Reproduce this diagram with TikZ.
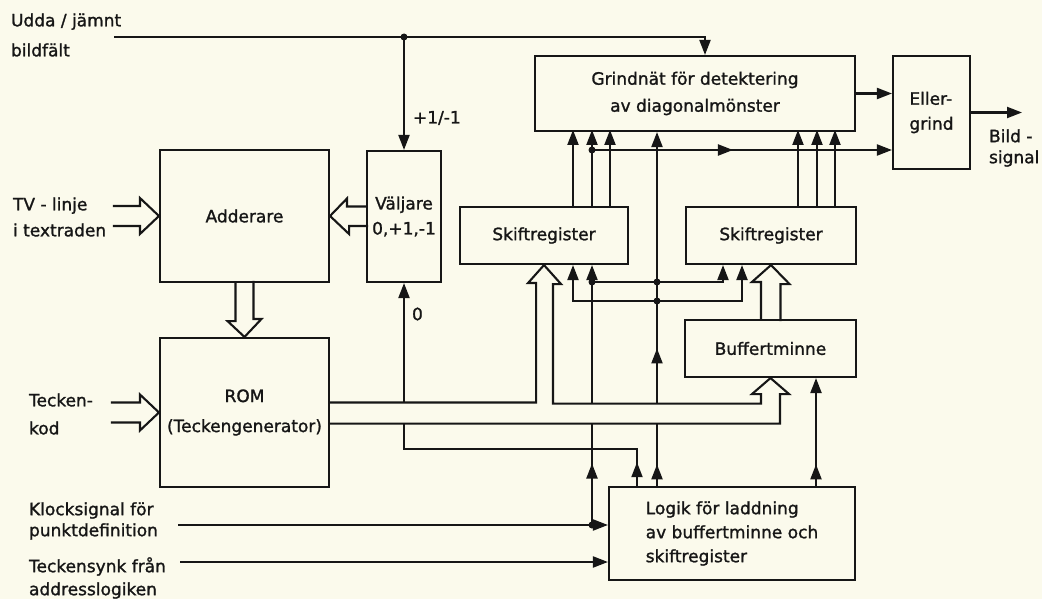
\documentclass[tikz,border=0pt]{standalone}
\usepackage{fontspec}
\setmainfont{DejaVu Sans}[BoldFont={DejaVu Sans}, BoldFeatures={FakeBold=1.3}]
\usetikzlibrary{arrows.meta,decorations.markings}
\definecolor{paper}{RGB}{251,250,236}
\definecolor{ink}{RGB}{22,22,22}

\begin{document}
\begin{tikzpicture}[x=1pt, y=-1pt, line width=2.1pt, ink,
	every node/.style={font=\bfseries\fontsize{17}{25}\selectfont},
	blk/.style={draw, rectangle, inner sep=0pt, align=center},
	txt/.style={inner sep=0pt, align=left, anchor=west},
	tip/.style={-{Triangle[length=15pt, width=11pt]}},
	tips/.style={{Triangle[length=15pt, width=11pt]}-{Triangle[length=15pt, width=11pt]}},
	midtip/.style={postaction={decorate}, decoration={markings, mark=at position #1 with {\arrow{Triangle[length=15pt, width=11pt]}}}},
	dot/.style={circle, fill, inner sep=0pt, minimum size=7pt}]

		\path[use as bounding box, fill=paper] (0,0) rectangle (1042,599);

		\node[blk, minimum width=169pt, minimum height=132pt] (add) at (244.5,216) {Adderare};
		\node[blk, minimum width=74pt, minimum height=131pt] (valj) at (404,216.5) {Väljare\\0,+1,-1};
		\node[blk, minimum width=169pt, minimum height=149pt, font=\bfseries\fontsize{17}{30}\selectfont] (rom) at (244.5,412.5) {ROM\\(Teckengenerator)};
		\node[blk, minimum width=320pt, minimum height=75pt, font=\bfseries\fontsize{17}{27}\selectfont] (grind) at (695,93.5) {Grindnät för detektering\\av diagonalmönster};
		\node[blk, minimum width=77pt, minimum height=113pt, align=left] (eller) at (931.5,112.5) {Eller-\\grind};
		\node[blk, minimum width=168pt, minimum height=57pt] (sra) at (544,235.5) {Skiftregister};
		\node[blk, minimum width=170pt, minimum height=57pt] (srb) at (771,235.5) {Skiftregister};
		\node[blk, minimum width=171pt, minimum height=57pt] (buf) at (770.5,348.5) {Buffertminne};
		\node[blk, minimum width=246pt, minimum height=93pt, align=left, font=\bfseries\fontsize{17}{24}\selectfont] (logik) at (732,533.5) {Logik för laddning\\av buffertminne och\\skiftregister};

		\node[txt, font=\bfseries\fontsize{17}{30}\selectfont] (tudda) at (10,35) {Udda / jämnt\\bildfält};
		\node[txt, font=\bfseries\fontsize{17}{26}\selectfont] (ttv) at (12,217) {TV - linje\\i textraden};
		\node[txt, font=\bfseries\fontsize{17}{28}\selectfont] (tkod) at (28,414) {Tecken-\\kod};
		\node[txt, font=\bfseries\fontsize{17}{21}\selectfont] (tklock) at (28,521) {Klocksignal för\\punktdefinition};
		\node[txt, font=\bfseries\fontsize{17}{23}\selectfont] (tsynk) at (28,578) {Teckensynk från\\addresslogiken};
		\node[txt, font=\bfseries\fontsize{17}{21}\selectfont] (tbild) at (988,148) {Bild -\\signal};
		\node[txt] (tpm) at (412,118) {+1/-1};
		\node[txt] (tnoll) at (411,314) {0};

		\coordinate (uin) at (114,37);
		\coordinate (klin) at (178,525);
		\coordinate (syin) at (180,562);
		\coordinate (bout) at (1022,114);
		\coordinate (j2) at (592,150);
		\coordinate (bt) at (0,402.5);
		\coordinate (bb) at (0,422.5);
		\coordinate (r1) at (0,282);
		\coordinate (r2) at (0,301);
		\coordinate (x1) at ([xshift=29pt]sra.south);
		\coordinate (x2) at ([xshift=48pt]sra.south);
		\coordinate (y1) at ([xshift=-48pt]srb.south);
		\coordinate (y2) at ([xshift=-29pt]srb.south);
		\coordinate (x0) at ([xshift=-95pt]logik.north);
		\coordinate (x3) at ([xshift=-75pt]logik.north);
		\coordinate (x4) at ([xshift=84pt]logik.north);
		\coordinate (c0) at (404,449);

		% wide arrows
		\draw (add.west) ++(-46,-10) -- ++(27,0) -- ++(0,-8) -- (add.west) -- ++(-19,18) -- ++(0,-8) -- ++(-27,0);
		\draw (valj.west) ++(0,-10) -- ++(-19,0) -- ++(0,-8) -- (add.east) -- ++(19,18) -- ++(0,-8) -- ++(19,0);
		\draw (add.south) ++(-9,0) -- ++(0,38) -- ++(-8,0) -- (rom.north) -- ++(17,-18) -- ++(-8,0) -- ++(0,-38);
		\draw (rom.west) ++(-48,-10) -- ++(29,0) -- ++(0,-8) -- (rom.west) -- ++(-19,18) -- ++(0,-8) -- ++(-29,0);
		\draw ([yshift=10pt]rom.east) -- ++(206,0) -- ++(0,-119.5) -- ++(-8,0) -- (sra.south) -- ++(17,19) -- ++(-8,0) -- ++(0,119.5) -- ++(208,0) -- ++(0,-9.5) -- ++(-9,0) -- (buf.south) -- ++(18.5,16) -- ++(-9,0) -- ++(0,29.5) -- ++(-451,0);
		\draw ([xshift=-9.5pt]buf.north) -- ++(0,-37) -- ++(-9,0) -- (srb.south) -- ++(18.5,19) -- ++(-9,0) -- ++(0,37);

		% signals
		\draw[tip] (uin) -| ([xshift=10pt]grind.north);
		\draw[tip] (uin -| valj.north) -- (valj.north);
		\node[dot] (d1) at (uin -| valj.north) {};

		\foreach \dx in {29,48,66} \draw[tip] (sra.north) ++(\dx,0) -- ++(0,-76);
		\foreach \dx in {27,46,64} \draw[tip] (srb.north) ++(\dx,0) -- ++(0,-76);
		\draw[tip, midtip=0.47] (j2) -- (j2 -| eller.west);
		\node[dot] (d2) at (j2) {};
		\draw[tip] (grind.east) -- (grind.east -| eller.west);
		\draw[tip] (eller.east) -- (eller.east -| bout);

		\draw[midtip=0.08] (x0) |- (c0) -- (c0 |- bb);
		\draw[tip] (valj.south |- bt) -- (valj.south);

		\draw[tip] (klin) -- (klin -| logik.west);
		\draw[tip] (syin) -- (syin -| logik.west);
		\draw[midtip=0.6] (klin -| x2) -- (x2 |- bb);
		\draw[tip] (x2 |- bt) -- (x2);
		\node[dot] (d3) at (klin -| x2) {};

		\draw[tip] (x2 |- r1) -| (y1);
		\draw[tips] (x1) |- (y2 |- r2) -- (y2);
		\node[dot] (d4) at (x2 |- r1) {};

		\draw[midtip=0.34] (x3) -- (x3 |- bb);
		\draw[tip, midtip=0.2] (x3 |- bt) -- (x3 |- grind.south);
		\node[dot] (d5) at (x3 |- r1) {};
		\node[dot] (d6) at (x3 |- r2) {};

		\draw[tip, midtip=0.2] (x4) -- (x4 |- buf.south);

	\end{tikzpicture}
\end{document}
